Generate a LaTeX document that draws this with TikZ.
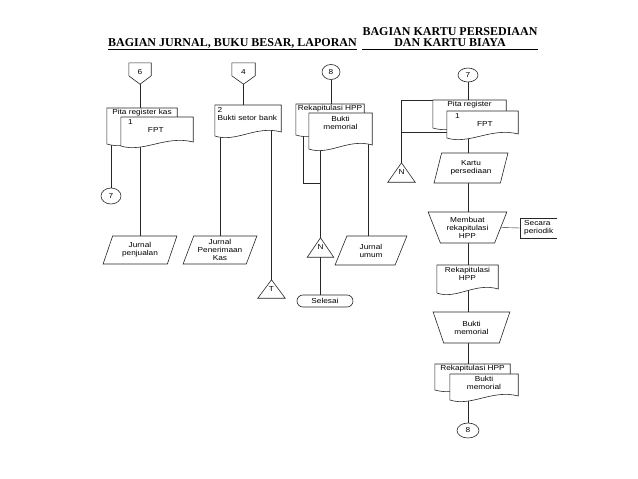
\documentclass[tikz,border=0pt]{standalone}
\usepackage{fontspec}
\newfontfamily\arialf[FakeStretch=1.15]{Liberation Sans}
\newfontfamily\timesf{Liberation Serif}
\usetikzlibrary{shapes.geometric,calc,backgrounds}
\newcommand\lblf{\arialf\fontsize{7.2}{8}\selectfont}
\newcommand\hdrf{\timesf\bfseries\fontsize{12}{13}\selectfont}
% document symbol drawn from a node's top edge, #2 = height
\newcommand\docfig[2]{\draw[ln,fill=white] (#1.north west) -- (#1.north east) -- ($(#1.north east)+(0,-#2pt+4pt)$) .. controls ($(#1.north west)!0.62!(#1.north east)+(0,-#2pt+11pt)$) and ($(#1.north west)!0.32!(#1.north east)+(0,-#2pt-7pt)$) .. ($(#1.north west)+(0,-#2pt)$) -- cycle;}
\newcommand\offpg[1]{\draw[ln,fill=white] (#1.north west) -- (#1.north east) -- ($(#1.north east)+(0,-13pt)$) -- (#1.south) -- ($(#1.north west)+(0,-13pt)$) -- cycle;}
\newcommand\trifig[1]{\draw[ln,fill=white] (#1.north) -- (#1.south east) -- (#1.south west) -- cycle;}
\begin{document}
\begin{tikzpicture}[x=1pt,y=-1pt,
 ln/.style={draw=black!85,line width=0.6pt},
 txt/.style={font=\lblf,inner sep=1pt,align=center},
 hdr/.style={font=\hdrf,inner sep=0pt,anchor=base},
 tbox/.style={txt,minimum width=#1},
 para/.style={txt,ln,fill=white,trapezium,trapezium stretches=true,inner sep=0pt},
 trap/.style={para,shape border rotate=180},
 circ/.style={txt,ln,fill=white,ellipse,inner sep=0pt},
 hold/.style={txt,inner sep=0pt}]
\useasboundingbox (0,0) rectangle (638,479);
% headers
\node[hdr] (hL) at (232.5,46.5) {BAGIAN JURNAL, BUKU BESAR, LAPORAN};
\node[hdr] (hR1) at (450,35.5) {BAGIAN KARTU PERSEDIAAN};
\node[hdr] (hR2) at (450,46.5) {DAN KARTU BIAYA};
\draw[line width=0.9pt] ($(hL.base west)+(0,-2.5pt)$) -- ($(hL.base east)+(0,-2.5pt)$);
\draw[line width=0.9pt] ($(hR2.base -| hR1.west)+(0,-2.5pt)$) -- ($(hR2.base -| hR1.east)+(0,-2.5pt)$);
% column 1
\node[hold,minimum width=22pt,minimum height=21pt] (o6) at (140,73.5) {\raisebox{3pt}{6}};
\node[tbox=70pt,anchor=north,inner ysep=0.6pt] (pk) at (142,108) {Pita register kas};
\node[tbox=72pt,anchor=north,text width=58pt,align=left,inner xsep=7pt,inner ysep=2pt] (fpt1) at (157,117) {1\\\hspace*{20pt}FPT};
\node[circ,minimum width=20pt,minimum height=16pt] (c7a) at (111,196) {7};
\node[para,trapezium left angle=67,trapezium right angle=113,minimum width=74pt,minimum height=28pt] (jp) at (140,250) {Jurnal\\penjualan};
% column 2
\node[hold,minimum width=23pt,minimum height=21pt] (o4) at (243.5,73.5) {\raisebox{3pt}{4}};
\node[tbox=66pt,anchor=north,text width=61pt,align=left,inner xsep=2.5pt,inner ysep=2pt] (bsb) at (248,105) {2\\Bukti setor bank};
\node[para,trapezium left angle=67,trapezium right angle=113,minimum width=74pt,minimum height=28pt] (jpk) at (220,250) {Jurnal\\Penerimaan\\Kas};
\node[hold,minimum width=27pt,minimum height=18pt] (tt) at (271.5,289) {\raisebox{-3pt}{T}};
% column 3
\node[circ,minimum width=18pt,minimum height=15pt] (c8a) at (331,72) {8};
\node[tbox=68pt,anchor=north,inner ysep=0.6pt] (rhpp) at (330,104) {Rekapitulasi HPP};
\node[tbox=63pt,anchor=north,inner ysep=3pt] (bm) at (340.5,113) {Bukti\\memorial};
\node[hold,minimum width=26pt,minimum height=19pt] (tn1) at (320.5,247.5) {\raisebox{-3pt}{N}};
\node[txt,ln,fill=white,rounded corners=6pt,minimum width=56pt,minimum height=12pt] (sel) at (325,301) {Selesai};
\node[para,trapezium left angle=67,trapezium right angle=113,minimum width=72pt,minimum height=29pt] (ju) at (371,250.5) {Jurnal\\umum};
\coordinate (j3) at (320.5,183);
% column 4
\node[circ,minimum width=20pt,minimum height=14pt] (c7b) at (468,75) {7};
\node[tbox=73pt,anchor=north,inner ysep=0.6pt] (pr) at (469.5,100) {Pita register};
\node[tbox=71pt,anchor=north,text width=55pt,align=left,inner xsep=8pt,inner ysep=2pt] (fpt2) at (482.5,111) {1\\\hspace*{22pt}FPT};
\node[hold,minimum width=27pt,minimum height=19pt] (tn2) at (401.5,172.5) {\raisebox{-3pt}{N}};
\coordinate (j4) at (401.5,132);
\node[para,trapezium left angle=70,trapezium right angle=110,minimum width=74pt,minimum height=30pt] (kp) at (471,168) {Kartu\\persediaan};
\node[trap,trapezium left angle=66,trapezium right angle=66,minimum width=79pt,minimum height=31pt] (mr) at (467.5,227.5) {Membuat\\rekapitulasi\\HPP};
\node[txt,align=left,anchor=west,minimum height=20pt,minimum width=37pt,inner xsep=2pt] (sp) at (520,228) {Secara\\periodik};
\node[tbox=61pt,anchor=north,inner ysep=2pt] (rh2) at (467.5,265) {Rekapitulasi\\HPP};
\node[trap,trapezium left angle=64,trapezium right angle=64,minimum width=77pt,minimum height=31pt] (bmt) at (471.5,327.5) {Bukti\\memorial};
\node[tbox=75pt,anchor=north,inner ysep=0.6pt] (rh3) at (472.5,364) {Rekapitulasi HPP};
\node[tbox=68pt,anchor=north,inner ysep=2pt] (bm3) at (484,374) {Bukti\\memorial};
\node[circ,minimum width=22pt,minimum height=15pt] (c8b) at (468,430.5) {8};
\begin{scope}[on background layer]
\fill[white] (0,0) rectangle (638,479);
% connectors
\draw[ln] (o6.south) -- (o6.south |- jp.north);
\draw[ln] (c7a.north) -- (c7a.north |- pk.north);
\draw[ln] (o4.south) -- (o4.south |- bsb.north);
\draw[ln] (jpk.north) -- (jpk.north |- bsb.north);
\draw[ln] (tt.north) -- (tt.north |- bsb.north);
\draw[ln] (c8a.south) -- (c8a.south |- rhpp.north);
\draw[ln] (tn1.north) -- (tn1.north |- bm.north);
\draw[ln] ([xshift=7pt]rhpp.north west) |- (j3);
\draw[ln] (tn1.south) -- (tn1.south |- sel.north);
\draw[ln] ([xshift=-3pt]ju.north) -- ([xshift=-3pt]ju.north |- bm.north);
\draw[ln] (c7b.south) -- (c7b.south |- kp.north);
\draw[ln] (pr.north west) -| (tn2.north);
\draw[ln] (j4) -- (j4 -| fpt2.north west);
\draw[ln] (kp.south -| c7b.south) -- (mr.north -| c7b.south);
\draw[ln] (mr.south -| c7b.south) -- (c7b.south |- bmt.north);
\draw[ln] (bmt.south -| c7b.south) -- (c8b.north);
\draw[ln,line width=0.4pt] (mr.east) -- (sp.west);
% symbols
\docfig{pk}{36}
\docfig{fpt1}{29}
\offpg{o6}
\offpg{o4}
\docfig{bsb}{31}
\trifig{tt}
\docfig{rhpp}{31}
\docfig{bm}{36}
\trifig{tn1}
\docfig{pr}{28}
\docfig{fpt2}{27}
\trifig{tn2}
\docfig{rh2}{28}
\docfig{rh3}{26}
\docfig{bm3}{26}
\draw[ln] (sp.north east) -- (sp.north west) -- (sp.south west) -- (sp.south east);
\end{scope}
\end{tikzpicture}
\end{document}
